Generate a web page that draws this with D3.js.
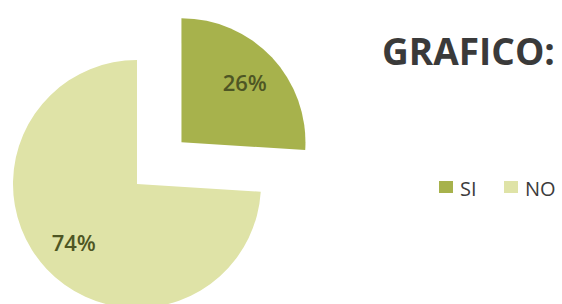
<!DOCTYPE html>
<html>
<head>
  <meta charset="utf-8">
  <script src="https://d3js.org/d3.v7.min.js"></script>
  <style>
    body { margin: 0; background: #fff; }
    text { font-family: "Open Sans", sans-serif; }
  </style>
</head>
<body>
  <script type="text/javascript">
    // chart data
    var categories = ["SI", "NO"];
    var values = [26, 74];
    var colors = ["#a7b24c", "#dfe3a7"];
    var title = "GRAFICO:";

    var width = 562, height = 304;
    var radius = 124,
        explode = 61;

    var svg = d3.select("body")
      .append("svg")
        .attr("width", width)
        .attr("height", height);

    var data = categories.map(function(c, i) { return { name: c, value: values[i] }; });

    var pie = d3.pie()
      .sort(null)
      .value(function(d) { return d.value; });

    var arc = d3.arc().innerRadius(0).outerRadius(radius);
    var labelArc = d3.arc().innerRadius(radius * 0.7).outerRadius(radius * 0.7);

    var color = d3.scaleOrdinal().domain(categories).range(colors);

    var g = svg.append("g")
        .attr("transform", "translate(137,184)");

    var slices = g.selectAll(".slice")
      .data(pie(data))
      .enter().append("g")
        .attr("class", "slice")
        .attr("transform", function(d, i) {
          if (i !== 0) return null;
          var a = (d.startAngle + d.endAngle) / 2;
          return "translate(" + (Math.sin(a) * explode) + "," + (-Math.cos(a) * explode) + ")";
        });

    slices.append("path")
      .attr("d", arc)
      .attr("fill", function(d) { return color(d.data.name); });

    slices.append("text")
      .attr("transform", function(d) { return "translate(" + labelArc.centroid(d) + ")"; })
      .attr("text-anchor", "middle")
      .attr("dy", "0.36em")
      .attr("font-size", 22)
      .attr("font-weight", 600)
      .attr("fill", "#4e5624")
      .text(function(d) { return d.data.value + "%"; });

    // title (kept fully inside the frame)
    svg.append("text")
      .attr("x", 382)
      .attr("y", 65)
      .attr("font-size", 37)
      .attr("font-weight", "bold")
      .attr("fill", "#3a3a3a")
      .text(title);

    // legend
    var legend = svg.selectAll(".legend")
      .data(categories)
      .enter().append("g")
        .attr("class", "legend")
        .attr("transform", function(d, i) { return "translate(" + (439 + i * 65) + ",181)"; });

    legend.append("rect")
      .attr("width", 14)
      .attr("height", 12)
      .attr("fill", function(d) { return color(d); });

    legend.append("text")
      .attr("x", 21)
      .attr("y", 15)
      .attr("font-size", 20)
      .attr("fill", "#3c3c3c")
      .text(function(d) { return d; });
  </script>
</body>
</html>
